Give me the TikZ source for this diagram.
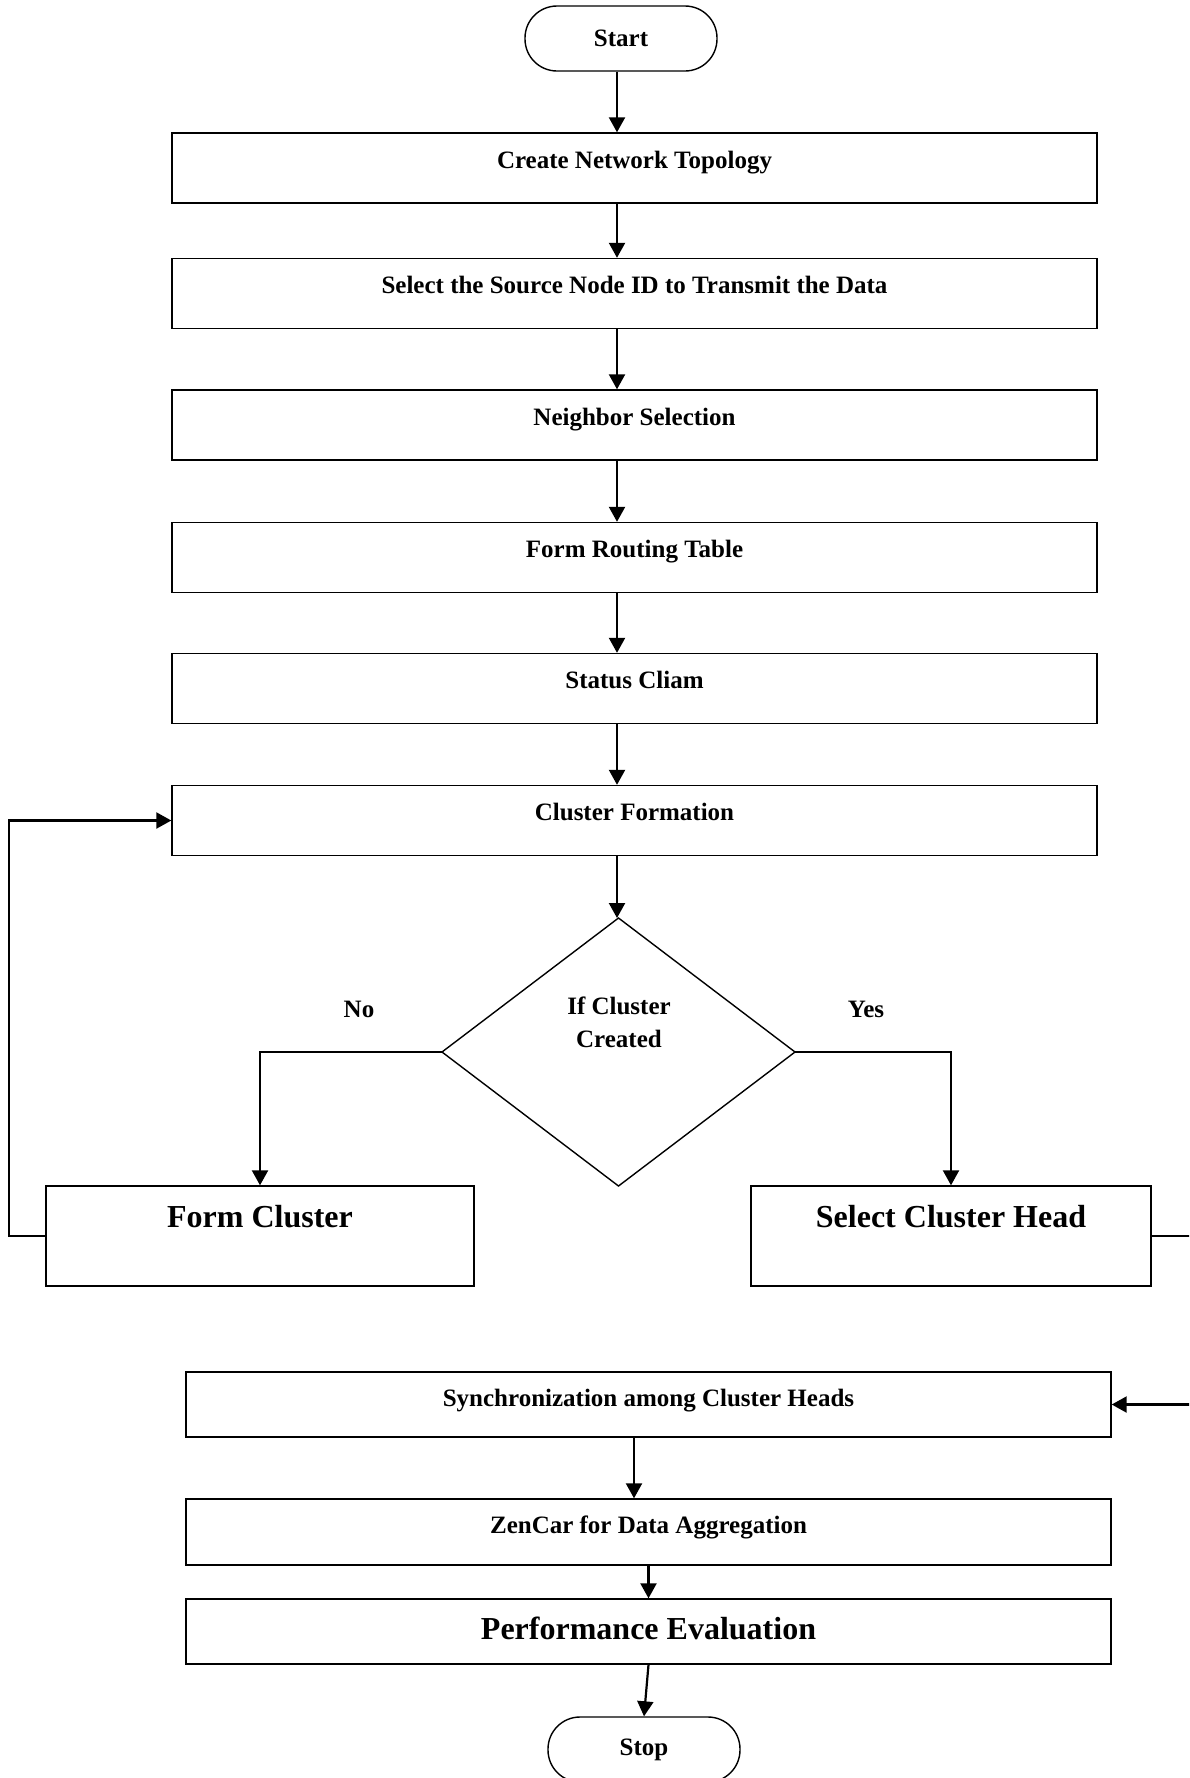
\documentclass[tikz,border=0pt]{standalone}
\usepackage{fontspec}
\setmainfont{Liberation Serif}
\usepackage{tikz}
\usetikzlibrary{
  arrows.meta,
  shapes.geometric
}
\colorlet{boxLine}{black}
\colorlet{flowLine}{black}

\begin{document}
\begin{tikzpicture}[
  x=1pt,
  y=-1pt,
  every node/.style={
    font=\bfseries\fontsize{25}{33}\selectfont,
  },
  procbox/.style={
    draw=boxLine,
    line width=1.4pt,
    minimum width=925pt,
    inner sep=0pt,
    text height=35pt,
    text depth=35pt,
  },
  lowbox/.style={
    procbox,
    text height=34pt,
    text depth=31pt,
  },
  bigbox/.style={
    procbox,
    font=\bfseries\fontsize{32}{38}\selectfont,
    text height=41.5pt,
    text depth=58.5pt,
  },
  terminal/.style={
    draw=boxLine,
    line width=1.4pt,
    rounded corners=32pt,
    minimum width=192pt,
    minimum height=65pt,
    inner sep=0pt,
  },
  decision/.style={
    diamond,
    draw=boxLine,
    line width=1.4pt,
    minimum width=353pt,
    minimum height=268pt,
    inner sep=0pt,
    outer sep=0pt,
  },
  flow/.style={
    draw=flowLine,
    line width=2.2pt,
    -{Triangle[length=15pt,width=16pt]},
  }
]
\useasboundingbox (0,0) rectangle (1189,1778);
\clip (0,0) rectangle (1189,1778);

\coordinate (col) at (617,0);
\node[terminal] (start) at (621,38.5) {Start};
\foreach \nm/\yy/\txt in {
  topo/168/Create Network Topology,
  src/293.5/Select the Source Node ID to Transmit the Data,
  nbr/425/Neighbor Selection,
  rtab/557.5/Form Routing Table,
  stat/688.5/Status Cliam,
  cform/820.5/Cluster Formation
} {
  \node[procbox] (\nm) at (634.5,\yy) {\txt};
}
\draw[flow] (start.south -| col) -- (topo.north -| col);
\foreach \a/\b in {topo/src,src/nbr,nbr/rtab,rtab/stat,stat/cform} {
  \draw[flow] (\a.south -| col) -- (\b.north -| col);
}

% decision
\node[decision] (dec) at (618.5,1052) {};
\node[align=center,inner sep=0pt] (dectext) at (619,1022) {If Cluster\\Created};
\draw[flow] (cform.south -| col) -- (dec.north -| col);
\node (lblno) at (359,1009) {No};
\node (lblyes) at (866,1009) {Yes};

\node[bigbox,minimum width=428pt] (fclus) at (260,1236) {Form Cluster};
\node[bigbox,minimum width=400pt] (sch) at (951,1236) {Select Cluster Head};
\draw[flow] (dec.west) -| (fclus.north);
\draw[flow] (dec.east) -| (sch.north);
\draw[flow] (fclus.west) -- ++(-36,0) |- (cform.west);

\node[lowbox] (sync) at (648.5,1404.5) {Synchronization among Cluster Heads};
\node[lowbox,text depth=32pt] (zen) at (648.5,1532) {ZenCar for Data Aggregation};
\node[bigbox,text height=40.5pt,text depth=24.5pt] (perf) at (648.5,1631.5) {Performance Evaluation};
\node[terminal] (stop) at (644,1749.5) {Stop};

\draw[flow] (sch.east) -- ++(80,0) |- (sync.east);
\draw[flow] ([xshift=-14.5pt]sync.south) -- ([xshift=-14.5pt]zen.north);
\draw[flow] (zen.south) -- (perf.north);
\draw[flow] (perf.south) -- (stop.north);
\end{tikzpicture}
\end{document}
